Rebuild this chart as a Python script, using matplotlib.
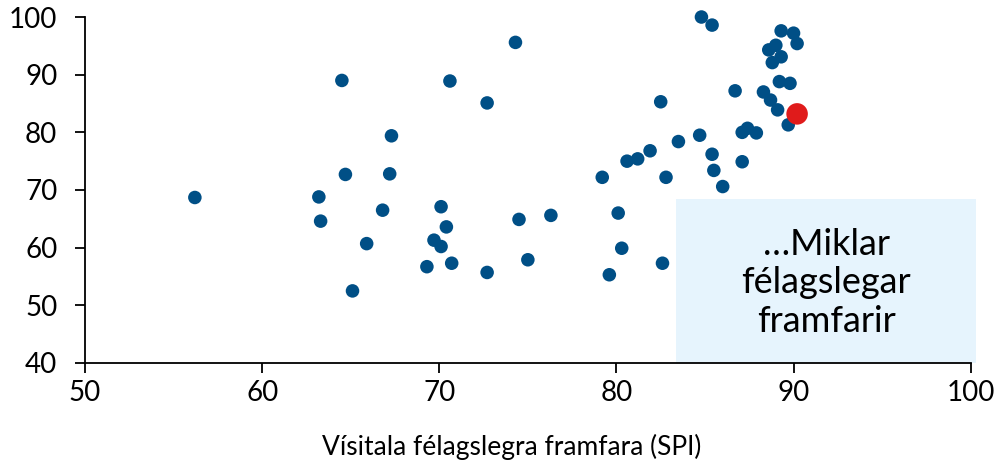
import numpy as np
import matplotlib.pyplot as plt
from matplotlib.patches import Rectangle

plt.rcParams['font.family'] = ['Lato', 'DejaVu Sans']

# Vísitala félagslegra framfara (SPI) / lífsgæði
spi = [56.2, 64.5, 67.3, 64.7, 67.2, 63.2, 63.3, 66.8, 65.9, 65.1,
       84.8, 85.4, 74.3, 70.6, 72.7, 82.5, 86.7,
       89.3, 90.0, 90.2, 88.6, 89.0, 89.3, 88.8, 89.2, 89.8, 88.3, 88.7, 89.1, 89.7,
       87.4, 87.1, 87.9, 84.7, 85.4, 87.1, 85.5, 86.0,
       79.2, 80.6, 81.2, 81.9, 83.5, 82.8,
       70.1, 70.4, 69.7, 70.1, 69.3, 70.7, 72.7, 74.5, 76.3, 75.0,
       80.1, 80.3, 79.6, 82.6]
gildi = [68.7, 89.0, 79.4, 72.7, 72.8, 68.8, 64.6, 66.5, 60.7, 52.5,
         100.0, 98.6, 95.6, 88.9, 85.1, 85.3, 87.2,
         97.6, 97.2, 95.4, 94.3, 95.1, 93.1, 92.1, 88.8, 88.5, 87.0, 85.6, 83.9, 81.3,
         80.7, 80.0, 79.9, 79.5, 76.2, 74.9, 73.4, 70.6,
         72.2, 75.0, 75.4, 76.8, 78.4, 72.2,
         67.1, 63.6, 61.3, 60.2, 56.7, 57.3, 55.7, 64.9, 65.6, 57.9,
         66.0, 59.9, 55.3, 57.3]

island_x = [90.2]
island_y = [83.2]

fig = plt.figure(figsize=(9.97, 4.65), dpi=100)
ax = fig.add_axes([0.0853, 0.2194, 0.8883, 0.744])

# ljósblár kassi neðst til hægri
box = Rectangle((83.37, 40), 100.3 - 83.37, 68.44 - 40, facecolor='#e6f4fd',
                edgecolor='none', zorder=0, clip_on=False)
ax.add_patch(box)
ax.text(91.85, 53.9, '…Miklar\nfélagslegar\nframfarir', ha='center', va='center',
        fontsize=26, linespacing=1.2, color='black', zorder=1)

ax.scatter(spi, gildi, s=95, color='#004f86', edgecolors='none', zorder=3, clip_on=False)
ax.scatter(island_x, island_y, s=240, color='#e01b1b', edgecolors='none', zorder=4, clip_on=False)

ax.set_xlim(50, 100)
ax.set_ylim(40, 100)
ax.set_xticks(range(50, 101, 10))
ax.set_yticks(range(40, 101, 10))
ax.spines['top'].set_visible(False)
ax.spines['right'].set_visible(False)
ax.spines['left'].set_linewidth(1.3)
ax.spines['bottom'].set_linewidth(1.3)
ax.tick_params(axis='y', direction='out', length=7, width=1.3, pad=13, labelsize=20)
ax.tick_params(axis='x', direction='out', length=7, width=1.3, pad=5, labelsize=20)
ax.set_xlabel('Vísitala félagslegra framfara (SPI)', fontsize=19)
ax.xaxis.set_label_coords(0.482, -0.205)

plt.savefig('out.png', dpi=100)
